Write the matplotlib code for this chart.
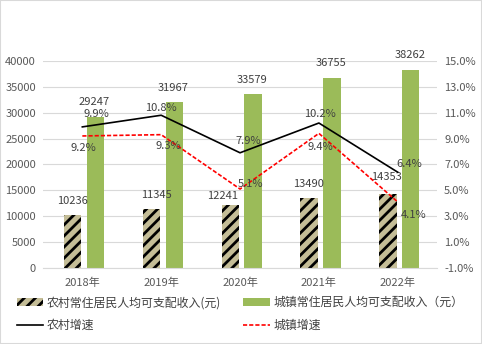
import numpy as np
import matplotlib.pyplot as plt
from matplotlib.patches import Patch
from matplotlib.lines import Line2D

plt.rcParams['font.family'] = ['Noto Sans CJK SC', 'DejaVu Sans']
plt.rcParams['hatch.linewidth'] = 2.0

years = ['2018年', '2019年', '2020年', '2021年', '2022年']
rural_income = [10236, 11345, 12241, 13490, 14353]
urban_income = [29247, 31967, 33579, 36755, 38262]
rural_growth = [9.9, 10.8, 7.9, 10.2, 6.4]
urban_growth = [9.2, 9.3, 5.1, 9.4, 4.1]

txt = '#404040'
tick_c = '#595959'
fs = 8

fig = plt.figure(figsize=(4.82, 3.44), dpi=100)
fig.patches.append(plt.Rectangle((0, 0), 1, 1, transform=fig.transFigure,
                                 fill=False, edgecolor='#d9d9d9', lw=1.5))
ax = fig.add_axes([0.089, 0.221, 0.818, 0.602])
x = np.arange(len(years))
w = 0.22

ax.bar(x - 0.125, rural_income, w, color='#c4bd97', edgecolor='black',
       hatch='///', lw=0)
ax.bar(x + 0.165, urban_income, w, color='#9bbb59', lw=0)

# label offsets in pixels (dx, dy)
rural_bar_off = [(0, 14), (5, 14), (-8, 9), (-1, 14), (-1, 17)]
for xi, v, off in zip(x, rural_income, rural_bar_off):
    ax.annotate(str(v), (xi - 0.125, v), xytext=off, textcoords='offset pixels',
                ha='center', va='center', fontsize=fs, color=txt)
for xi, v in zip(x, urban_income):
    ax.annotate(str(v), (xi + 0.165, v), xytext=(-1, 14.5), textcoords='offset pixels',
                ha='center', va='center', fontsize=fs, color=txt)

ax.set_ylim(0, 40000)
ax.set_yticks(range(0, 40001, 5000))
ax.set_xlim(-0.5, 4.5)
ax.set_xticks(x)
ax.set_xticklabels(years)
ax.grid(axis='y', color='#d9d9d9', lw=0.8)
ax.set_axisbelow(True)
for s in ['top', 'right', 'left']:
    ax.spines[s].set_visible(False)
ax.spines['bottom'].set_color('#d9d9d9')
ax.tick_params(length=0, labelsize=fs, colors=tick_c, pad=5)
ax.tick_params(axis='x', pad=7)

ax2 = ax.twinx()
ax2.plot(x, rural_growth, color='black', lw=1.2)
ax2.plot(x, urban_growth, color='red', lw=1.2, ls=(0, (2.5, 1.2)))
ax2.set_ylim(-1, 15)
ax2.set_yticks(np.arange(-1, 15.1, 2))
ax2.set_yticklabels([f'{v:.1f}%' for v in np.arange(-1, 15.1, 2)])
for s in ax2.spines.values():
    s.set_visible(False)
ax2.tick_params(length=0, labelsize=fs, colors=tick_c, pad=5)

rural_off = [(14, 13), (0, 7), (8, 12), (1, 9), (12, 8)]
for xi, v, off in zip(x, rural_growth, rural_off):
    ax2.annotate(f'{v}%', (xi, v), xytext=off, textcoords='offset pixels',
                 ha='center', va='center', fontsize=fs, color=txt)
urban_off = [(1, -12), (7, -11), (10, 5), (1, -14), (16, -13)]
for xi, v, off in zip(x, urban_growth, urban_off):
    ax2.annotate(f'{v}%', (xi, v), xytext=off, textcoords='offset pixels',
                 ha='center', va='center', fontsize=fs, color=txt)

# legend fills column by column
handles = [Patch(facecolor='#c4bd97', edgecolor='black', hatch='///', lw=0),
           Line2D([], [], color='black', lw=1.2),
           Patch(facecolor='#9bbb59', lw=0),
           Line2D([], [], color='red', lw=1.2, ls=(0, (2.5, 1.2)))]
labels = ['农村常住居民人均可支配收入(元)', '农村增速', '城镇常住居民人均可支配收入（元）', '城镇增速']
fig.legend(handles, labels, loc='center left', bbox_to_anchor=(0.012, 0.087), ncol=2,
           frameon=False, fontsize=8.6, labelcolor=txt, handlelength=2.2, handleheight=0.6,
           columnspacing=1.9, handletextpad=0.3, labelspacing=0.8)

fig.savefig('out.png', dpi=100)
